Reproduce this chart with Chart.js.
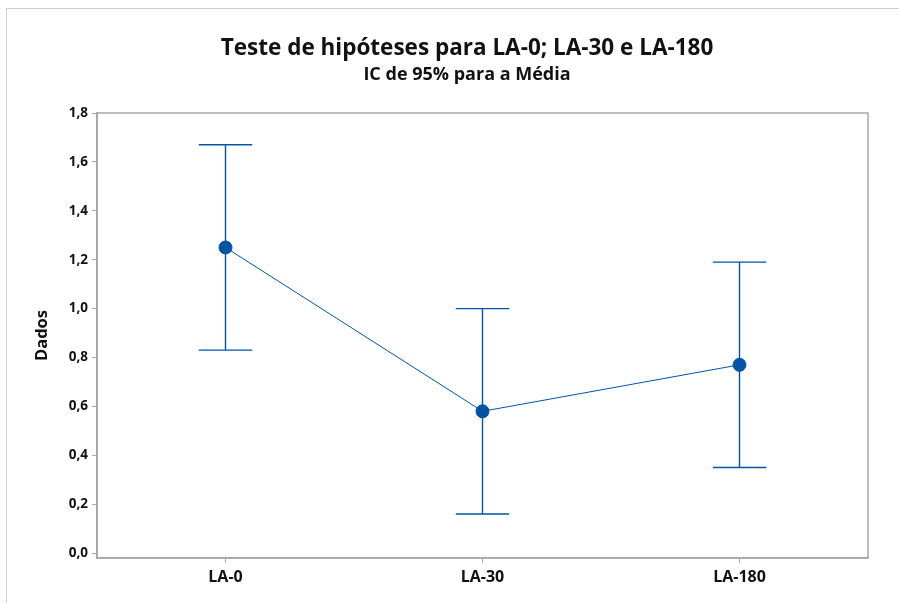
<!DOCTYPE html>
<html>
<head>
<meta charset="utf-8">
<script src="https://cdn.jsdelivr.net/npm/chart.js@4/dist/chart.umd.min.js"></script>
<style>
  html, body { margin: 0; padding: 0; background: #ffffff; }
  #wrap { position: relative; width: 899px; height: 603px; overflow: hidden; }
  #frame { position: absolute; left: 6px; top: 8px; width: 920px; height: 620px;
           border-left: 1px solid #cfcfcf; border-top: 1px solid #cfcfcf; }
  canvas { position: absolute; left: 0; top: 0; }
</style>
</head>
<body>
<div id="wrap">
  <div id="frame"></div>
  <canvas id="c" width="899" height="603"></canvas>
</div>
<script>
// Groups and their 95% confidence intervals for the mean
const categories = ['LA-0', 'LA-30', 'LA-180'];
const means = [1.25, 0.58, 0.77];
const lowerCI = [0.83, 0.16, 0.35];
const upperCI = [1.67, 1.00, 1.19];
const yTickValues = [0, 0.2, 0.4, 0.6, 0.8, 1.0, 1.2, 1.4, 1.6, 1.8];
const yTickLabels = ['0,0', '0,2', '0,4', '0,6', '0,8', '1,0', '1,2', '1,4', '1,6', '1,8'];

const BLUE = '#0054a6';
const AXIS_GRAY = '#a6a6a6';
const FONT = '"Open Sans", "Noto Sans", sans-serif';

const points = means.map((m, i) => ({ x: i, y: m }));

// Vertical interval lines with horizontal caps, drawn beneath the mean markers
const intervalBars = {
  id: 'intervalBars',
  beforeDatasetsDraw(chart) {
    const { ctx, scales: { x, y } } = chart;
    const capHalf = 0.104;
    ctx.save();
    ctx.strokeStyle = BLUE;
    ctx.lineWidth = 1.4;
    categories.forEach((_, i) => {
      const px = x.getPixelForValue(i);
      const top = y.getPixelForValue(upperCI[i]);
      const bot = y.getPixelForValue(lowerCI[i]);
      const l = x.getPixelForValue(i - capHalf);
      const r = x.getPixelForValue(i + capHalf);
      ctx.beginPath();
      ctx.moveTo(px, top); ctx.lineTo(px, bot);
      ctx.moveTo(l, top); ctx.lineTo(r, top);
      ctx.moveTo(l, bot); ctx.lineTo(r, bot);
      ctx.stroke();
    });
    ctx.restore();
  }
};

// Box around the plotting region
const plotBox = {
  id: 'plotBox',
  afterDraw(chart) {
    const { ctx, chartArea: a } = chart;
    ctx.save();
    ctx.strokeStyle = AXIS_GRAY;
    ctx.lineWidth = 1.5;
    ctx.strokeRect(a.left, a.top, a.right - a.left, a.bottom - a.top);
    ctx.restore();
  }
};

new Chart(document.getElementById('c'), {
  type: 'scatter',
  data: {
    datasets: [{
      data: points,
      showLine: true,
      borderColor: BLUE,
      borderWidth: 1,
      backgroundColor: BLUE,
      pointBackgroundColor: BLUE,
      pointBorderColor: BLUE,
      pointRadius: 6.5,
      pointHoverRadius: 6.5,
      tension: 0
    }]
  },
  options: {
    responsive: false,
    animation: false,
    devicePixelRatio: 1,
    layout: { padding: { left: 66, right: 31, top: 0, bottom: 0 } },
    plugins: {
      legend: { display: false },
      tooltip: { enabled: false },
      title: {
        display: true,
        text: 'Teste de hipóteses para LA-0; LA-30 e LA-180',
        color: '#111',
        font: { family: FONT, size: 22.5, weight: 'bold' },
        padding: { top: 35, bottom: 2.5 }
      },
      subtitle: {
        display: true,
        text: 'IC de 95% para a Média',
        color: '#111',
        font: { family: FONT, size: 18, weight: 'bold' },
        padding: { top: 0, bottom: 26.9 }
      }
    },
    scales: {
      x: {
        type: 'linear',
        min: -0.5,
        max: 2.5,
        afterBuildTicks(scale) { scale.ticks = categories.map((_, i) => ({ value: i })); },
        afterFit(scale) { scale.height = 45; },
        ticks: {
          callback: (v) => categories[v],
          color: '#111',
          font: { family: FONT, size: 16, weight: 'bold' },
          padding: 5,
          maxRotation: 0
        },
        grid: { drawOnChartArea: false, drawTicks: true, tickLength: 5, color: AXIS_GRAY, lineWidth: 1 },
        border: { display: true, color: AXIS_GRAY, width: 1.5 }
      },
      y: {
        type: 'linear',
        min: -0.02,
        max: 1.8,
        afterBuildTicks(scale) { scale.ticks = yTickValues.map(v => ({ value: v })); },
        afterFit(scale) { scale.width = 31; },
        ticks: {
          callback: (v) => yTickLabels[yTickValues.findIndex(t => Math.abs(t - v) < 1e-9)],
          color: '#111',
          font: { family: FONT, size: 13.5, weight: 'bold' },
          padding: 4
        },
        title: {
          display: true,
          text: 'Dados',
          color: '#111',
          font: { family: FONT, size: 16.5, weight: 'bold' },
          padding: { top: -34, bottom: 0 }
        },
        grid: { drawOnChartArea: false, drawTicks: true, tickLength: 5, color: AXIS_GRAY, lineWidth: 1 },
        border: { display: true, color: AXIS_GRAY, width: 1.5 }
      }
    }
  },
  plugins: [intervalBars, plotBox]
});
</script>
</body>
</html>
